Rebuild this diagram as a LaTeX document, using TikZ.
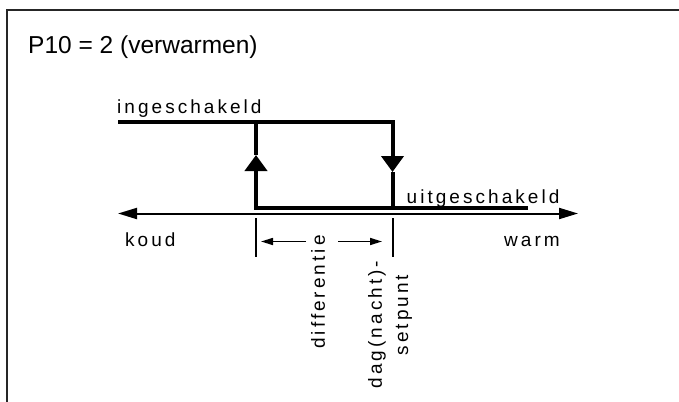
\documentclass[tikz,border=0pt]{standalone}
\usepackage{fontspec}
\setmainfont{Liberation Sans}
\newfontfamily\spacedfont[LetterSpace=16]{Liberation Sans}
\usetikzlibrary{arrows.meta}
\begin{document}
\begin{tikzpicture}[x=1pt,y=-1pt,
  frameline/.style={draw=black!85, line width=2.6pt},
  hyst/.style={line width=4pt, line join=miter},
  axisline/.style={line width=2pt},
  tickline/.style={line width=2pt},
  dimline/.style={line width=1.6pt},
  lbl/.style={font=\fontsize{19}{22}\selectfont\spacedfont, inner sep=0pt},
  bigtip/.tip={Triangle[length=16pt,width=22pt]},
  axtip/.tip={Triangle[length=19pt,width=11pt]},
  smalltip/.tip={Triangle[length=12pt,width=7pt]}]
\useasboundingbox (0,0) rectangle (679,401);
% frame
\coordinate (fbl) at (7,402);
\coordinate (ftl) at (7,10);
\coordinate (ftr) at (680,10);
\draw[frameline] (fbl) -- (ftl) -- (ftr);
% title
\node[anchor=base west, inner sep=0pt, font=\fontsize{24.5}{28}\selectfont] (title) at (28,53.5) {P10 = 2 (verwarmen)};
% hysteresis
\coordinate (tl) at (118,121.5);
\coordinate (c1) at (256,121.5);
\coordinate (c2) at (392.5,121.5);
\coordinate (b1) at (256,208);
\coordinate (b2) at (392.5,208);
\coordinate (br) at (528,208);
\coordinate (up) at (256,155);
\coordinate (dn) at (392.5,172);
\draw[hyst, -bigtip] (tl) -- (c2) -- (dn);
\draw[hyst] (dn) -- (b2);
\draw[hyst, -bigtip] (br) -- (b1) -- (up);
\draw[hyst] (up) -- (c1);
% axis
\coordinate (axl) at (118,213.5);
\coordinate (axr) at (578,213.5);
\draw[axisline, axtip-axtip] (axl) -- (axr);
% ticks
\coordinate (t1a) at (255.5,218);
\coordinate (t1b) at (255.5,257);
\coordinate (t2a) at (392.5,218);
\coordinate (t2b) at (392.5,257);
\draw[tickline] (t1a) -- (t1b);
\draw[tickline] (t2a) -- (t2b);
% dimension arrows
\coordinate (d1a) at (306,241.5);
\coordinate (d1b) at (261,241.5);
\coordinate (d2a) at (338,241.5);
\coordinate (d2b) at (382,241.5);
\draw[dimline, -smalltip] (d1a) -- (d1b);
\draw[dimline, -smalltip] (d2a) -- (d2b);
% labels
\node[lbl, anchor=base west] (ing) at (117,113.5) {ingeschakeld};
\node[lbl, anchor=base west] (uit) at (406.5,203.3) {uitgeschakeld};
\node[lbl, anchor=base west] (koud) at (125,246.5) {koud};
\node[lbl, anchor=base east] (warm) at (560,246.5) {warm};
\node[lbl, rotate=90] (diff) at (318,292) {differentie};
\node[lbl, rotate=90] (dag) at (377,324.5) {dag(nacht)-};
\node[lbl, rotate=90] (set) at (404,315) {setpunt};
\end{tikzpicture}
\end{document}
